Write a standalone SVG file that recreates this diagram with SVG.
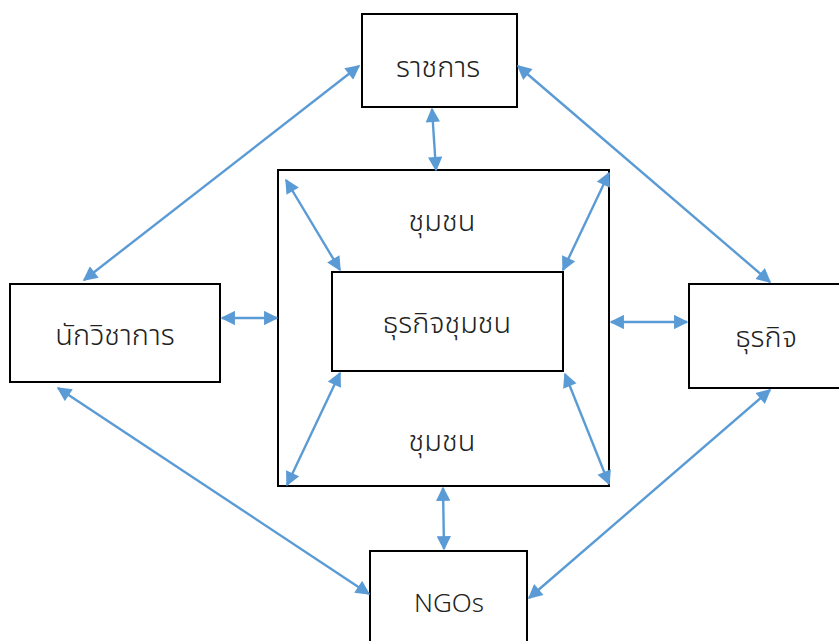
<svg xmlns="http://www.w3.org/2000/svg" width="839" height="641" viewBox="0 0 839 641">
<defs>
<marker id="ah" viewBox="0 0 10 10" refX="9" refY="5" markerWidth="6.5" markerHeight="6" orient="auto-start-reverse" markerUnits="strokeWidth">
<path d="M0,0 L10,5 L0,10 Z" fill="#5B9BD5"/>
</marker>
<style>
.box{fill:#fff;stroke:#000;stroke-width:2}
.obox{fill:none;stroke:#000;stroke-width:2}
.lbl{font-family:"Noto Sans Thai","Noto Sans","DejaVu Sans",sans-serif;font-size:29px;font-weight:300;fill:#222;text-anchor:middle;dominant-baseline:central}
.en{font-size:26px}
.c{stroke:#5B9BD5;stroke-width:2.4;fill:none;marker-start:url(#ah);marker-end:url(#ah)}
</style>
</defs>
<rect width="839" height="641" fill="#fff"/>
<g id="community">
<rect class="obox" x="278" y="170" width="331" height="316"/>
<text class="lbl" x="442" y="222">ชุมชน</text>
<text class="lbl" x="442" y="442">ชุมชน</text>
</g>
<g id="gov">
<rect class="box" x="362" y="14" width="155" height="93"/>
<text class="lbl" x="438" y="68">ราชการ</text>
</g>
<g id="community-business">
<rect class="box" x="332" y="272" width="231" height="99"/>
<text class="lbl" x="447" y="324">ธุรกิจชุมชน</text>
</g>
<g id="academics">
<rect class="box" x="10" y="284" width="210" height="98"/>
<text class="lbl" x="115" y="336">นักวิชาการ</text>
</g>
<g id="business">
<rect class="box" x="689" y="284" width="160" height="104"/>
<text class="lbl" x="766" y="338">ธุรกิจ</text>
</g>
<g id="ngos">
<rect class="box" x="370" y="551" width="157" height="100"/>
<text class="lbl en" x="449" y="604">NGOs</text>
</g>
<g id="connectors">
<line class="c" x1="359" y1="66" x2="84" y2="280"/>
<line class="c" x1="518" y1="66" x2="770" y2="282"/>
<line class="c" x1="432" y1="109" x2="436" y2="170"/>
<line class="c" x1="286" y1="180" x2="340" y2="270"/>
<line class="c" x1="609" y1="173" x2="563" y2="270"/>
<line class="c" x1="340" y1="373" x2="287" y2="485"/>
<line class="c" x1="565" y1="374" x2="609" y2="484"/>
<line class="c" x1="222" y1="318" x2="277" y2="318"/>
<line class="c" x1="611" y1="322" x2="687" y2="322"/>
<line class="c" x1="58" y1="388" x2="369" y2="594"/>
<line class="c" x1="770" y1="390" x2="529" y2="598"/>
<line class="c" x1="443" y1="488" x2="444" y2="549"/>
</g>
</svg>
